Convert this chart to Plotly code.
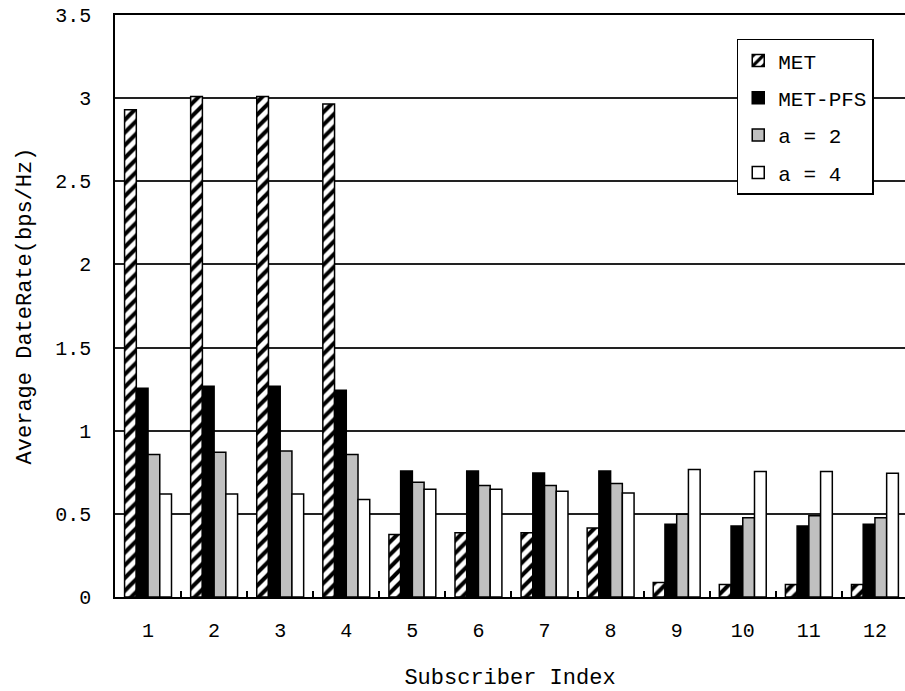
import plotly.graph_objects as go

categories = ["1", "2", "3", "4", "5", "6", "7", "8", "9", "10", "11", "12"]
met = [2.93, 3.01, 3.01, 2.965, 0.376, 0.386, 0.386, 0.415, 0.087, 0.075, 0.075, 0.075]
met_pfs = [1.256, 1.268, 1.268, 1.243, 0.757, 0.757, 0.745, 0.757, 0.437, 0.427, 0.427, 0.437]
a2 = [0.857, 0.87, 0.878, 0.857, 0.69, 0.67, 0.67, 0.682, 0.497, 0.477, 0.489, 0.477]
a4 = [0.62, 0.62, 0.62, 0.587, 0.648, 0.648, 0.636, 0.626, 0.767, 0.755, 0.755, 0.744]
y_ticks = [0, 0.5, 1, 1.5, 2, 2.5, 3, 3.5]

FONT = "Liberation Mono"
line = dict(color="black", width=1.5)

fig = go.Figure()
fig.add_trace(go.Bar(
    name="MET", x=categories, y=met, legendgroup="g1",
    marker=dict(color="white", line=line,
                pattern=dict(shape="/", fgcolor="black", bgcolor="white",
                             size=9, solidity=0.45, fillmode="replace")),
))
fig.add_trace(go.Bar(
    name="MET-PFS", x=categories, y=met_pfs, legendgroup="g2",
    marker=dict(color="black", line=line),
))
fig.add_trace(go.Bar(
    name="a = 2", x=categories, y=a2, legendgroup="g3",
    marker=dict(color="#C0C0C0", line=line),
))
fig.add_trace(go.Bar(
    name="a = 4", x=categories, y=a4, legendgroup="g4",
    marker=dict(color="white", line=line),
))

fig.update_layout(
    width=905, height=691,
    margin=dict(l=115, r=0, t=15, b=94),
    paper_bgcolor="white", plot_bgcolor="white",
    barmode="group", bargap=0.29, bargroupgap=0,
    font=dict(family=FONT, size=20, color="black"),
    showlegend=True,
    legend=dict(
        x=0.787, y=0.959, xanchor="left", yanchor="top",
        bgcolor="white", bordercolor="black", borderwidth=1.5,
        font=dict(family=FONT, size=21, color="black"),
        tracegroupgap=7, traceorder="grouped",
    ),
    xaxis=dict(
        type="category", range=[-0.5, 11.455],
        showline=True, linecolor="black", linewidth=1.5, mirror=True,
        ticks="inside", tickson="boundaries", ticklen=6, tickcolor="black", tickwidth=1.5,
        showgrid=False, ticklabelstandoff=14,
        tickfont=dict(family=FONT, size=20),
        title=dict(text="Subscriber Index", font=dict(family=FONT, size=22), standoff=27),
    ),
    yaxis=dict(
        range=[0, 3.5], tickvals=y_ticks,
        showline=True, linecolor="black", linewidth=1.5, mirror=False,
        showgrid=True, gridcolor="#222", gridwidth=1.5,
        ticks="", ticklabelstandoff=18, zeroline=False,
        tickfont=dict(family=FONT, size=20),
        title=dict(text="Average DateRate(bps/Hz)", font=dict(family=FONT, size=22), standoff=18),
    ),
)

fig.write_html("out.html", config={"displayModeBar": False},
               post_script="document.body.style.margin='0';document.body.style.overflow='hidden';")
